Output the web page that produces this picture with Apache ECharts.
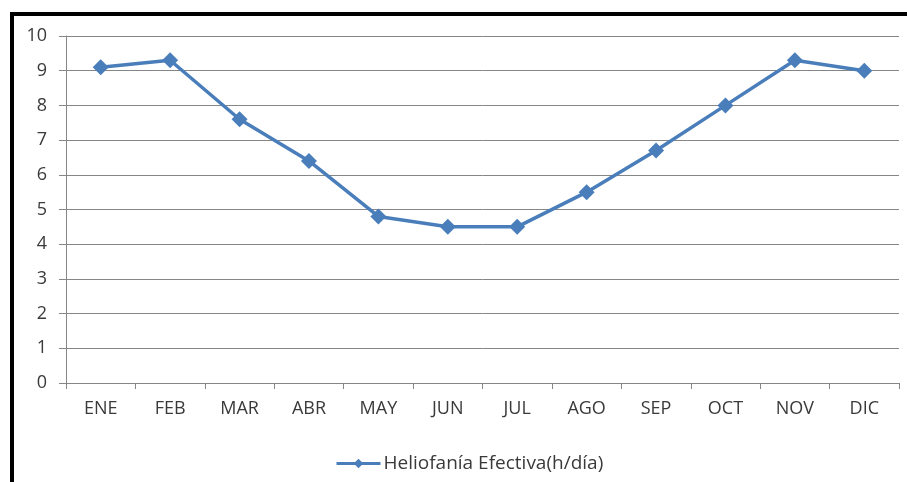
<!DOCTYPE html>
<html>
<head>
<meta charset="utf-8">
<script src="https://cdn.jsdelivr.net/npm/echarts@6/dist/echarts.min.js"></script>
<style>
html, body { margin: 0; padding: 0; background: #fff; overflow: hidden; }
#frame { position: absolute; left: 10px; top: 12px; width: 920px; height: 490px; border: 4px solid #000; }
#main { position: absolute; left: 0; top: 0; width: 907px; height: 482px; }
</style>
</head>
<body>
<div id="frame"></div>
<div id="main"></div>
<script>
var meses = ['ENE', 'FEB', 'MAR', 'ABR', 'MAY', 'JUN', 'JUL', 'AGO', 'SEP', 'OCT', 'NOV', 'DIC'];
var heliofania = [9.1, 9.3, 7.6, 6.4, 4.8, 4.5, 4.5, 5.5, 6.7, 8.0, 9.3, 9.0];
var nombreSerie = 'Heliofanía Efectiva(h/día)';

var chart = echarts.init(document.getElementById('main'));
var option = {
    animation: false,
    color: ['#4a7ebb'],
    textStyle: { fontFamily: 'Open Sans' },
    grid: {
        left: 66,
        right: 8,
        top: 36,
        bottom: 99,
        containLabel: false
    },
    legend: {
        top: 449,
        left: 330,
        itemWidth: 44,
        itemHeight: 12,
        itemGap: 4,
        lineStyle: { width: 3 },
        textStyle: { color: '#3a3a3a', fontSize: 19, fontFamily: 'Open Sans', padding: [0, 0, 0, -2] },
        data: [nombreSerie]
    },
    xAxis: {
        type: 'category',
        boundaryGap: true,
        data: meses,
        axisLine: { lineStyle: { color: '#868686' } },
        axisTick: { show: true, length: 6, lineStyle: { color: '#868686' } },
        axisLabel: { color: '#3a3a3a', fontSize: 18, margin: 17 }
    },
    yAxis: {
        type: 'value',
        min: 0,
        max: 10,
        interval: 1,
        axisLine: { show: true, lineStyle: { color: '#868686' } },
        axisTick: { show: true, length: 7, lineStyle: { color: '#868686' } },
        axisLabel: { color: '#3a3a3a', fontSize: 18, margin: 19 },
        splitLine: { show: true, lineStyle: { color: '#868686' } }
    },
    series: [
        {
            name: nombreSerie,
            type: 'line',
            data: heliofania,
            symbol: 'diamond',
            symbolSize: 16,
            lineStyle: { width: 3.5, color: '#4a7ebb' },
            itemStyle: { color: '#4a7ebb' }
        }
    ]
};
chart.setOption(option);
</script>
</body>
</html>
